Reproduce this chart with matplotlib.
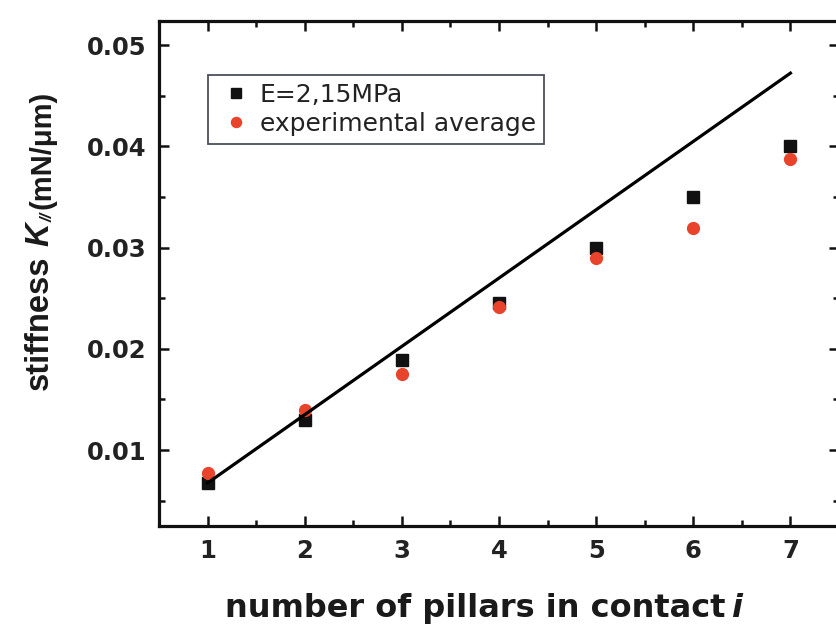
import matplotlib
matplotlib.use("Agg")
import matplotlib.pyplot as plt
from matplotlib.ticker import MultipleLocator

# pillars in contact
pillars = [1, 2, 3, 4, 5, 6, 7]
# model stiffness for E = 2.15 MPa (mN/um)
k_model = [0.0067, 0.0130, 0.0189, 0.0245, 0.0300, 0.0350, 0.0400]
# experimental average stiffness (mN/um)
k_exp = [0.0077, 0.0140, 0.0175, 0.0241, 0.0290, 0.0319, 0.0388]
# linear stiffness i * k1
fit_x = [1, 7]
fit_y = [0.00675, 0.04725]

x_ticks = [1, 2, 3, 4, 5, 6, 7]
y_ticks = [0.01, 0.02, 0.03, 0.04, 0.05]
y_ticklabels = ["0.01", "0.02", "0.03", "0.04", "0.05"]

W, H = 836, 628
fig = plt.figure(figsize=(W / 100, H / 100), dpi=100)
fig.patch.set_facecolor("white")

left, right, bottom, top = 159, 839, 526, 21
ax = fig.add_axes([left / W, 1 - bottom / H, (right - left) / W, (bottom - top) / H])

ax.plot(pillars, k_model, linestyle="none", marker="s", markersize=8.5,
        color="#111111", label="E=2,15MPa", zorder=3)
ax.plot(pillars, k_exp, linestyle="none", marker="o", markersize=8.5,
        color="#e8432b", label="experimental average", zorder=4)
ax.plot(fit_x, fit_y, color="black", linewidth=2.3, zorder=5)

ax.set_xlim(0.5, 7.5)
ax.set_ylim(0.0025, 0.0524)
ax.set_xticks(x_ticks)
ax.set_yticks(y_ticks)
ax.set_yticklabels(y_ticklabels)
ax.xaxis.set_minor_locator(MultipleLocator(0.5))
ax.yaxis.set_minor_locator(MultipleLocator(0.005))

for s in ax.spines.values():
    s.set_linewidth(2.3)
    s.set_color("#111111")

ax.tick_params(which="both", direction="in", top=True, right=True,
               color="#111111")
ax.tick_params(which="major", length=7.5, width=1.8, pad=9)
ax.tick_params(which="minor", length=4, width=1.8)

tick_font = dict(family="DejaVu Sans", weight="bold", size=17.5)
for lab in ax.get_xticklabels() + ax.get_yticklabels():
    lab.set_fontproperties(tick_font)
    lab.set_color("#222222")

# x axis title
fig.text(225 / W, 1 - 617 / H, "number of pillars in contact",
         family="DejaVu Sans", weight="bold", size=23, color="#1a1a1a",
         ha="left", va="baseline")
fig.text(731 / W, 1 - 617 / H, "i", family="DejaVu Sans", weight="bold",
         style="italic", size=23, color="#1a1a1a", ha="left", va="baseline")

# y axis title, built from pieces running bottom to top
def vtext(xb, yb, s, **kw):
    fig.text(xb / W, 1 - yb / H, s, rotation=90, rotation_mode="anchor",
             ha="left", va="baseline", color="#1a1a1a", **kw)

vtext(48, 390, "stiffness", family="Liberation Sans", weight="bold", size=23.5)
vtext(48, 246, "K", family="Liberation Sans", weight="bold", style="italic", size=23.5)
vtext(53, 222, "//", family="Liberation Sans", weight="bold", style="italic", size=12)
vtext(50, 209, "(mN/\u03bcm)", family="Liberation Sans", weight="bold", size=21)

leg = ax.legend(loc="upper left", bbox_to_anchor=(208 / W, 1 - 75 / H),
                bbox_transform=fig.transFigure, borderaxespad=0,
                frameon=True, fancybox=False, framealpha=1,
                prop=dict(family="DejaVu Sans", size=18),
                handlelength=1.6, handletextpad=0.14, labelspacing=0.2,
                borderpad=0.32, markerscale=0.85)
leg.get_frame().set_edgecolor("#4a4f5a")
leg.get_frame().set_linewidth(1.3)
for t in leg.get_texts():
    t.set_color("#222222")

fig.savefig("out.png", dpi=100, facecolor="white")
